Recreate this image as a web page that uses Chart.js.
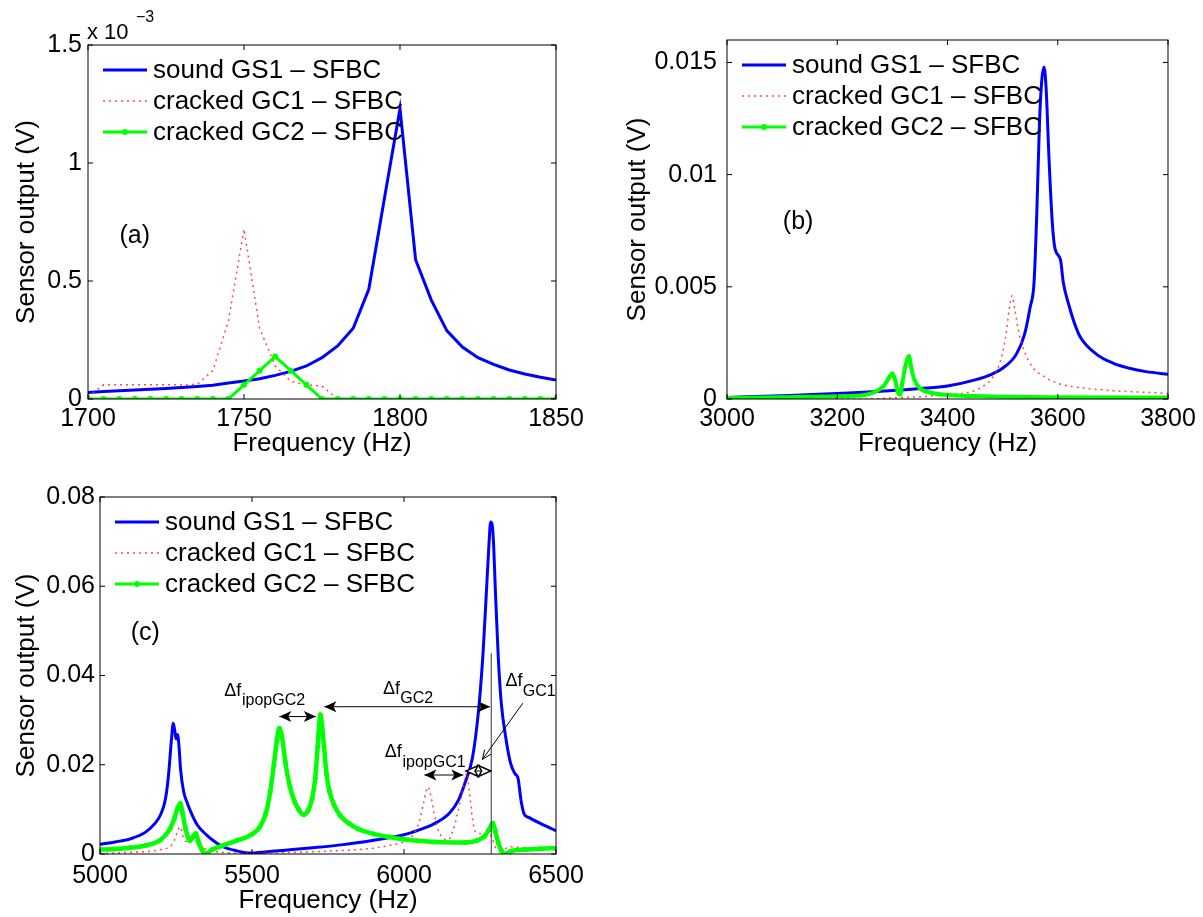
<!DOCTYPE html>
<html><head><meta charset="utf-8">
<script src="https://cdn.jsdelivr.net/npm/chart.js@4.4.1/dist/chart.umd.min.js"></script>
<style>
html,body{margin:0;padding:0;background:#fff;width:1203px;height:917px;overflow:hidden}
canvas{position:absolute;left:0;top:0}
</style></head><body>
<canvas id="ca" width="1203" height="917"></canvas>
<canvas id="cb" width="1203" height="917"></canvas>
<canvas id="cc" width="1203" height="917"></canvas>
<script>
// ---------------- data ----------------
const seriesLabels = ['sound GS1 \u2013 SFBC', 'cracked GC1 \u2013 SFBC', 'cracked GC2 \u2013 SFBC'];

// Panel (a): values in units of 10^-3 V
const aFreq = [1700,1705,1710,1715,1720,1725,1730,1735,1740,1745,1750,1755,1760,1765,1770,1775,1780,1785,1790,1795,1800,1805,1810,1815,1820,1825,1830,1835,1840,1845,1850];
const aSound = [0.028,0.032,0.035,0.038,0.041,0.045,0.049,0.053,0.058,0.068,0.076,0.086,0.100,0.117,0.140,0.175,0.225,0.300,0.465,0.850,1.230,0.590,0.420,0.290,0.220,0.175,0.147,0.123,0.106,0.092,0.080];
const aGC1 = [0.010,0.060,0.060,0.060,0.060,0.060,0.060,0.062,0.120,0.330,0.720,0.300,0.140,0.075,0.060,0.055,0,0,0,0,0,0,0,0,0,0,0,0,0,0,0];
const aGC2 = [0,0,0,0,0,0,0,0,0,0,0.06,0.12,0.18,0.12,0.06,0,0,0,0,0,0,0,0,0,0,0,0,0,0,0,0];
const aXTicks = [1700,1750,1800,1850];
const aYTicks = [0,0.5,1,1.5];

// Panel (b)
const bSoundF = [3000,3100,3200,3300,3350,3400,3450,3480,3500,3525,3540,3550,3557,3562,3567,3571,3575,3579,3584,3590,3595,3605,3610,3620,3630,3640,3670,3700,3730,3760,3800];
const bSoundV = [0.00007,0.00015,0.00025,0.00038,0.00047,0.00058,0.00085,0.0011,0.00137,0.0020,0.0029,0.0041,0.0052,0.0083,0.0124,0.0142,0.0148,0.0138,0.0108,0.0079,0.0067,0.0062,0.0052,0.0042,0.0034,0.0028,0.0020,0.0016,0.00137,0.00122,0.0011];
const bGC1F = [3000,3250,3300,3350,3400,3440,3460,3480,3495,3505,3512,3517,3522,3530,3540,3555,3575,3600,3650,3700,3800];
const bGC1V = [0,0,0.00005,0.0001,0.0002,0.0003,0.0005,0.0009,0.0016,0.0027,0.0040,0.0046,0.0040,0.0029,0.0021,0.0014,0.0010,0.0007,0.00048,0.00037,0.00025];
const bGC2F = [3000,3100,3200,3250,3270,3285,3295,3300,3305,3310,3314,3318,3323,3330,3335,3340,3350,3370,3400,3450,3500,3600,3800];
const bGC2V = [0.00005,0.00008,0.00012,0.00018,0.00033,0.0006,0.001,0.00114,0.00085,0.0003,0.0002,0.0007,0.0014,0.0019,0.0013,0.00085,0.00048,0.00028,0.00018,0.00013,0.0001,0.00008,0.00007];
const bXTicks = [3000,3200,3400,3600,3800];
const bYTicks = [0,0.005,0.01,0.015];

// Panel (c)
const cSoundF = [5000,5050,5100,5150,5180,5200,5215,5225,5235,5241,5246,5250,5255,5260,5265,5275,5285,5300,5320,5350,5400,5450,5500,5550,5600,5700,5800,5900,6000,6050,6100,6150,6180,6200,6225,6245,6260,6272,6280,6285,6290,6295,6300,6310,6320,6335,6350,6365,6375,6385,6395,6410,6450,6500];
const cSoundV = [0.0022,0.0027,0.0034,0.0049,0.0068,0.0089,0.0122,0.0174,0.0256,0.0293,0.0276,0.0258,0.0268,0.0240,0.0190,0.0140,0.0118,0.0092,0.0065,0.0043,0.0018,0.0007,0.0002,0.0005,0.0008,0.0014,0.0021,0.0031,0.0043,0.0054,0.0068,0.0092,0.0122,0.0158,0.0215,0.0320,0.0450,0.0600,0.0700,0.0744,0.0738,0.0690,0.0600,0.0442,0.0338,0.0260,0.0205,0.0180,0.0170,0.0120,0.0090,0.0082,0.0068,0.0052];
const cGC1F = [5000,5100,5200,5240,5255,5263,5275,5290,5308,5330,5350,5400,5500,5600,5700,5800,5900,5950,6000,6030,6050,6065,6078,6090,6100,6115,6130,6145,6160,6175,6190,6207,6215,6225,6235,6250,6280,6290,6300,6320,6350,6400,6500];
const cGC1V = [0.0001,0.0004,0.0010,0.0024,0.0050,0.0061,0.0035,0.0026,0.0032,0.0020,0.0010,0.0004,0.0001,0.0003,0.0005,0.0008,0.0013,0.0019,0.0028,0.0043,0.0072,0.0117,0.0150,0.0125,0.0087,0.0050,0.0035,0.0031,0.0050,0.0087,0.0132,0.0181,0.0140,0.0080,0.0050,0.0046,0.0046,0.0035,0.0016,0.0009,0.0016,0.0014,0.0011];
const cGC2F = [5000,5050,5100,5150,5200,5230,5245,5255,5264,5272,5282,5296,5305,5315,5325,5335,5345,5370,5400,5450,5500,5525,5545,5560,5572,5582,5590,5598,5610,5625,5640,5655,5670,5685,5698,5708,5716,5721,5725,5730,5737,5745,5755,5770,5790,5820,5850,5900,5950,6000,6100,6200,6240,6265,6280,6292,6300,6310,6320,6332,6350,6400,6450,6500];
const cGC2V = [0.0010,0.0011,0.0014,0.0019,0.0032,0.0056,0.0080,0.0102,0.0113,0.0090,0.0055,0.0030,0.0038,0.0046,0.0025,0.0010,0.0000,0.0010,0.0018,0.0030,0.0044,0.0060,0.0090,0.0140,0.0200,0.0255,0.0282,0.0265,0.0205,0.0150,0.0118,0.0098,0.0088,0.0098,0.0125,0.0170,0.0240,0.0290,0.0312,0.0290,0.0240,0.0180,0.0140,0.0110,0.0086,0.0068,0.0056,0.0045,0.0038,0.0033,0.0027,0.0026,0.0030,0.0040,0.0055,0.0069,0.0052,0.0025,0.0008,0.0000,0.0006,0.0010,0.0012,0.0013];
const cXTicks = [5000,5500,6000,6500];
const cYTicks = [0,0.02,0.04,0.06,0.08];

// ---------------- drawing ----------------
const FONT = '"Liberation Sans", Arial, Helvetica, sans-serif';
Chart.defaults.font.family = FONT;
Chart.defaults.color = '#000';
const CW = 1203, CH = 917;

function pts(f, v) { return f.map((x, i) => ({x: x, y: v[i]})); }

function makeSets(s, g1, g2, markR, greenW, smooth) {
  const mode = smooth ? 'monotone' : 'default';
  return [
    {label: seriesLabels[0], data: s, borderColor: '#0000ff', borderWidth: 3, pointRadius: 0, order: 3, cubicInterpolationMode: mode, tension: smooth ? 0.4 : 0},
    {label: seriesLabels[1], data: g1, borderColor: 'rgba(255,40,40,0.85)', borderWidth: 1.5, borderDash: [2, 4], pointRadius: 0, order: 2, cubicInterpolationMode: mode, tension: smooth ? 0.4 : 0},
    {label: seriesLabels[2], data: g2, borderColor: '#00ff00', borderWidth: greenW, pointRadius: markR, pointBackgroundColor: '#00ff00', pointBorderWidth: 0, order: 1, cubicInterpolationMode: mode, tension: smooth ? 0.4 : 0}
  ];
}

function drawLegend(ctx, ca, datasets) {
  ctx.save();
  ctx.font = '26px ' + FONT;
  ctx.textBaseline = 'middle';
  ctx.textAlign = 'left';
  datasets.forEach((ds, i) => {
    const y = ca.top + 25 + i * 31;
    const x1 = ca.left + 15, x2 = ca.left + 59;
    ctx.beginPath();
    ctx.strokeStyle = ds.borderColor;
    ctx.lineWidth = Math.min(ds.borderWidth, 3);
    ctx.setLineDash(ds.borderDash || []);
    ctx.moveTo(x1, y); ctx.lineTo(x2, y); ctx.stroke();
    ctx.setLineDash([]);
    if (ds.pointRadius) {
      ctx.beginPath(); ctx.fillStyle = ds.borderColor;
      ctx.arc((x1 + x2) / 2, y, 3, 0, Math.PI * 2); ctx.fill();
    }
    ctx.fillStyle = '#000';
    ctx.fillText(ds.label, ca.left + 65, y + 1);
  });
  ctx.restore();
}

function drawBoxTicks(chart) {
  const {ctx, chartArea: ca, scales: {x, y}} = chart;
  ctx.save();
  ctx.strokeStyle = '#000'; ctx.lineWidth = 1;
  ctx.strokeRect(ca.left, ca.top, ca.right - ca.left, ca.bottom - ca.top);
  const TL = 5;
  ctx.beginPath();
  x.ticks.forEach(t => {
    const p = x.getPixelForValue(t.value);
    ctx.moveTo(p, ca.bottom); ctx.lineTo(p, ca.bottom - TL);
    ctx.moveTo(p, ca.top); ctx.lineTo(p, ca.top + TL);
  });
  y.ticks.forEach(t => {
    const p = y.getPixelForValue(t.value);
    ctx.moveTo(ca.left, p); ctx.lineTo(ca.left + TL, p);
    ctx.moveTo(ca.right, p); ctx.lineTo(ca.right - TL, p);
  });
  ctx.stroke();
  ctx.restore();
}

function makePanel(id, cfg) {
  const A = cfg.area;
  const deco = {
    id: 'deco_' + id,
    afterDatasetsDraw(chart) {
      drawBoxTicks(chart);
    },
    afterDraw(chart) {
      const {ctx, chartArea: ca, scales: {x, y}} = chart;
      drawLegend(ctx, ca, chart.data.datasets);
      ctx.save();
      ctx.fillStyle = '#000';
      ctx.font = '25px ' + FONT;
      ctx.textAlign = 'center'; ctx.textBaseline = 'middle';
      ctx.fillText(cfg.tag[0], x.getPixelForValue(cfg.tag[1]), y.getPixelForValue(cfg.tag[2]));
      ctx.restore();
      if (cfg.extra) cfg.extra(chart);
    }
  };
  return new Chart(document.getElementById(id), {
    type: 'line',
    data: {datasets: cfg.datasets},
    options: {
      responsive: false, animation: false, events: [],
      layout: {padding: {left: A.L - cfg.yW, top: A.T, right: CW - A.R, bottom: CH - A.B - cfg.xH}},
      plugins: {legend: {display: false}, tooltip: {enabled: false}},
      scales: {
        x: {
          type: 'linear', min: cfg.xMin, max: cfg.xMax,
          afterFit(s) { s.height = cfg.xH; },
          afterBuildTicks(s) { s.ticks = cfg.xTicks.map(v => ({value: v})); },
          grid: {display: false, drawTicks: false}, border: {display: false},
          ticks: {font: {size: 25}, padding: cfg.xPad, color: '#000', maxRotation: 0, autoSkip: false, callback: v => String(v)},
          title: {display: true, text: 'Frequency (Hz)', font: {size: 26}, padding: 0, color: '#000'}
        },
        y: {
          type: 'linear', min: cfg.yMin, max: cfg.yMax,
          afterFit(s) { s.width = cfg.yW; },
          afterBuildTicks(s) { s.ticks = cfg.yTicks.map(v => ({value: v})); },
          grid: {display: false, drawTicks: false}, border: {display: false},
          ticks: {font: {size: 25}, padding: cfg.yPad, color: '#000', autoSkip: false, callback: v => String(v)},
          title: {display: true, text: 'Sensor output (V)', font: {size: 26}, padding: 0, color: '#000'}
        }
      }
    },
    plugins: [deco]
  });
}

// arrow helpers for panel (c)
function head(ctx, tx, ty, ang, hollow) {
  const L = 12, W = 5.5, N = 3;
  const c = Math.cos(ang), s = Math.sin(ang);
  const P = (a, b) => [tx - c * a + s * b, ty - s * a - c * b];
  ctx.beginPath();
  ctx.moveTo(tx, ty);
  let p = P(L, W); ctx.lineTo(p[0], p[1]);
  p = P(L - N, 0); ctx.lineTo(p[0], p[1]);
  p = P(L, -W); ctx.lineTo(p[0], p[1]);
  ctx.closePath();
  if (hollow) { ctx.fillStyle = '#fff'; ctx.fill(); ctx.lineWidth = 1.5; ctx.stroke(); }
  else { ctx.fillStyle = '#000'; ctx.fill(); }
}
function dblArrow(ctx, x1, x2, y, hollow) {
  ctx.beginPath(); ctx.moveTo(x1, y); ctx.lineTo(x2, y); ctx.lineWidth = 1; ctx.stroke();
  head(ctx, x1, y, Math.PI, hollow);
  head(ctx, x2, y, 0, hollow);
}
function subText(ctx, main, sub, mx, my, sx, sy) {
  ctx.font = '18px ' + FONT; ctx.fillText(main, mx, my);
  ctx.font = '16px ' + FONT; ctx.fillText(sub, sx, sy);
}

// Panel (a)
makePanel('ca', {
  area: {L: 88, T: 45, R: 556, B: 399}, yW: 76.6, xH: 60, xPad: 5, yPad: 6,
  xMin: 1700, xMax: 1850, yMin: 0, yMax: 1.5, xTicks: aXTicks, yTicks: aYTicks,
  datasets: makeSets(pts(aFreq, aSound), pts(aFreq, aGC1), pts(aFreq, aGC2), 3, 3, false),
  tag: ['(a)', 1715, 0.692],
  extra(chart) {
    const {ctx, chartArea: ca} = chart;
    ctx.save(); ctx.fillStyle = '#000'; ctx.textAlign = 'left'; ctx.textBaseline = 'alphabetic';
    ctx.font = '22px ' + FONT; ctx.fillText('x 10', ca.left - 1, ca.top - 6);
    ctx.font = '16px ' + FONT; ctx.fillText('\u22123', ca.left + 48, ca.top - 23);
    ctx.restore();
  }
});

// Panel (b)
makePanel('cb', {
  area: {L: 727, T: 40, R: 1168, B: 399}, yW: 105, xH: 60, xPad: 5, yPad: 10,
  xMin: 3000, xMax: 3800, yMin: 0, yMax: 0.016, xTicks: bXTicks, yTicks: bYTicks,
  datasets: makeSets(pts(bSoundF, bSoundV), pts(bGC1F, bGC1V), pts(bGC2F, bGC2V), 2, 4, true),
  tag: ['(b)', 3129, 0.0079]
});

// Panel (c)
makePanel('cc', {
  area: {L: 100, T: 497, R: 556, B: 854}, yW: 88.6, xH: 62, xPad: 7, yPad: 5,
  xMin: 5000, xMax: 6500, yMin: 0, yMax: 0.08, xTicks: cXTicks, yTicks: cYTicks,
  datasets: makeSets(pts(cSoundF, cSoundV), pts(cGC1F, cGC1V), pts(cGC2F, cGC2V), 2.5, 4.5, true),
  tag: ['(c)', 5149, 0.0494],
  extra(chart) {
    const {ctx, scales: {x, y}} = chart;
    const X = v => x.getPixelForValue(v), Y = v => y.getPixelForValue(v);
    ctx.save();
    ctx.strokeStyle = '#000'; ctx.fillStyle = '#000';
    // vertical reference line at the sound-peak frequency
    ctx.beginPath(); ctx.lineWidth = 1; ctx.strokeStyle = '#333';
    ctx.moveTo(X(6287), Y(0)); ctx.lineTo(X(6287), Y(0.045)); ctx.stroke();
    ctx.strokeStyle = '#000';
    dblArrow(ctx, X(5590), X(5710), Y(0.0308), false);
    dblArrow(ctx, X(5738), X(6283), Y(0.0330), false);
    dblArrow(ctx, X(6067), X(6195), Y(0.0177), false);
    dblArrow(ctx, X(6204), X(6285), Y(0.0186), true);
    // oblique arrow to the GC1 shift
    const x1 = X(6391), y1 = Y(0.0338), x2 = X(6258), y2 = Y(0.0212);
    ctx.beginPath(); ctx.lineWidth = 1; ctx.moveTo(x1, y1); ctx.lineTo(x2, y2); ctx.stroke();
    const ang = Math.atan2(y2 - y1, x2 - x1);
    ctx.beginPath();
    ctx.moveTo(x2 - 10 * Math.cos(ang - 0.4), y2 - 10 * Math.sin(ang - 0.4));
    ctx.lineTo(x2, y2);
    ctx.lineTo(x2 - 10 * Math.cos(ang + 0.4), y2 - 10 * Math.sin(ang + 0.4));
    ctx.stroke();
    // labels
    ctx.fillStyle = '#000'; ctx.textAlign = 'left'; ctx.textBaseline = 'alphabetic';
    subText(ctx, '\u0394f', 'ipopGC2', X(5409), Y(0.0353), X(5467), Y(0.0334));
    subText(ctx, '\u0394f', 'GC2', X(5931), Y(0.0359), X(5988), Y(0.0338));
    subText(ctx, '\u0394f', 'ipopGC1', X(5937), Y(0.0217), X(5995), Y(0.0196));
    subText(ctx, '\u0394f', 'GC1', X(6334), Y(0.0377), X(6391), Y(0.0354));
    ctx.restore();
  }
});
</script>
</body></html>
